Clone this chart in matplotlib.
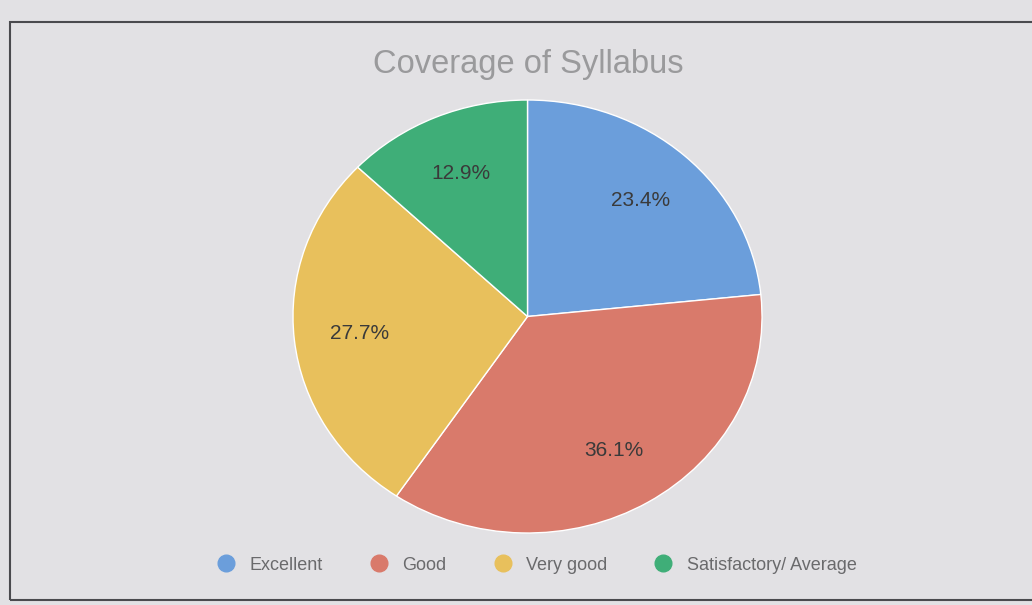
import matplotlib.pyplot as plt
from matplotlib.patches import Rectangle
from matplotlib.lines import Line2D

plt.rcParams['font.family'] = ['Liberation Sans', 'DejaVu Sans']

# Data
labels = ["Excellent", "Good", "Very good", "Satisfactory/ Average"]
shares = [23.4, 36.1, 27.7, 12.9]
colors = ["#6b9edb", "#d97a6b", "#e8c05c", "#3fae78"]

fig = plt.figure(figsize=(10.32, 6.05), dpi=100)
fig.patch.set_facecolor("#e2e1e4")

# Outer frame of the chart panel
fig.patches.append(Rectangle((10 / 1032, 0.008), 1.0, 0.956, transform=fig.transFigure,
                             fill=False, edgecolor="#4a4a4e", linewidth=1.5))

# pie is slightly wider than tall in the reference photo
ax = fig.add_axes([0.2839, 0.119, 0.4545, 0.7157])
wedges, texts, autotexts = ax.pie(
    shares, colors=colors, startangle=90, counterclock=False,
    autopct="%1.1f%%", pctdistance=0.72,
    wedgeprops=dict(edgecolor="white", linewidth=1.0),
    textprops=dict(color="#3a3a3a", fontsize=15),
)
ax.set_aspect("auto")
ax.set_xlim(-1, 1)
ax.set_ylim(-1, 1)

fig.text(0.512, 0.893, "Coverage of Syllabus", ha="center", va="center",
         fontsize=23.5, color="#9a9a9c")

handles = [Line2D([], [], marker="o", linestyle="", markersize=12,
                  markerfacecolor=c, markeredgecolor=c) for c in colors]
fig.legend(handles, labels, loc="center", bbox_to_anchor=(0.516, 0.066), ncol=4,
           frameon=False, fontsize=13, labelcolor="#6a6a6c", handletextpad=0.3,
           columnspacing=2.1)

plt.savefig("out.png", dpi=100, facecolor=fig.get_facecolor())
